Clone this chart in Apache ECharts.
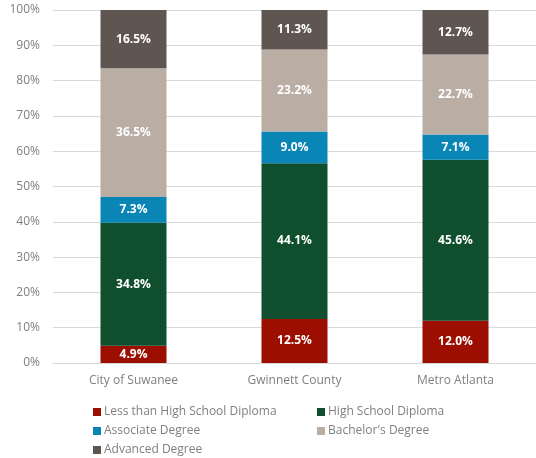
<!DOCTYPE html>
<html>
<head>
<meta charset="utf-8">
<script src="https://cdn.jsdelivr.net/npm/echarts@6/dist/echarts.min.js"></script>
<style>
  html, body { margin: 0; padding: 0; background: #fff; }
  #chart { width: 536px; height: 458px; }
</style>
</head>
<body>
<div id="chart"></div>
<script>
// Educational attainment shares by area (percent)
const categories = ['City of Suwanee', 'Gwinnett County', 'Metro Atlanta'];
const seriesNames = ['Less than High School Diploma', 'High School Diploma', 'Associate Degree', "Bachelor's Degree", 'Advanced Degree'];
const lessThanHS = [4.9, 12.5, 12.0];
const highSchool = [34.8, 44.1, 45.6];
const associate = [7.3, 9.0, 7.1];
const bachelors = [36.5, 23.2, 22.7];
const advanced = [16.5, 11.3, 12.7];
const yTicks = [0, 10, 20, 30, 40, 50, 60, 70, 80, 90, 100];

const values = [lessThanHS, highSchool, associate, bachelors, advanced];
const colors = ['#9c0f00', '#0f4f2e', '#0a86b6', '#baada4', '#5f5652'];
const font = '"Open Sans", "Liberation Sans", sans-serif';

const chart = echarts.init(document.getElementById('chart'), null, { renderer: 'canvas' });

const series = seriesNames.map((name, i) => ({
  name: name,
  type: 'bar',
  stack: 'total',
  barWidth: 66,
  itemStyle: { color: colors[i] },
  label: {
    show: true,
    position: 'inside',
    color: '#ffffff',
    fontWeight: 'bold',
    fontSize: 12,
    fontFamily: font,
    formatter: p => p.value.toFixed(1) + '%'
  },
  emphasis: { disabled: true },
  data: values[i]
}));

const legendText = { color: '#7f7f7f', fontSize: 12, fontFamily: font, padding: [0, 0, 0, -2] };

// two legend columns laid out like a two-column key
const legendBase = {
  orient: 'vertical',
  top: 406,
  padding: 0,
  height: 60,
  itemWidth: 8, itemHeight: 8, itemGap: 7,
  icon: 'rect',
  textStyle: legendText,
  selectedMode: false
};

chart.setOption({
  animation: false,
  grid: { left: 53, top: 10, width: 493, height: 353, containLabel: false },
  xAxis: {
    type: 'category',
    data: categories,
    axisLine: { show: true, lineStyle: { color: '#d9d9d9' } },
    axisTick: { show: false },
    axisLabel: { color: '#7f7f7f', fontSize: 12, fontFamily: font, margin: 12 }
  },
  yAxis: {
    type: 'value',
    min: yTicks[0],
    max: yTicks[yTicks.length - 1],
    interval: 10,
    axisLine: { show: false },
    axisTick: { show: false },
    splitLine: { lineStyle: { color: '#d9d9d9', width: 1 } },
    axisLabel: { color: '#7f7f7f', fontSize: 12, fontFamily: font, margin: 13, formatter: v => v + '%' }
  },
  legend: [
    Object.assign({}, legendBase, {
      data: [seriesNames[0], seriesNames[2], seriesNames[4]],
      left: 93
    }),
    Object.assign({}, legendBase, {
      data: [seriesNames[1], seriesNames[3]],
      left: 317
    })
  ],
  series: series
});
</script>
</body>
</html>
